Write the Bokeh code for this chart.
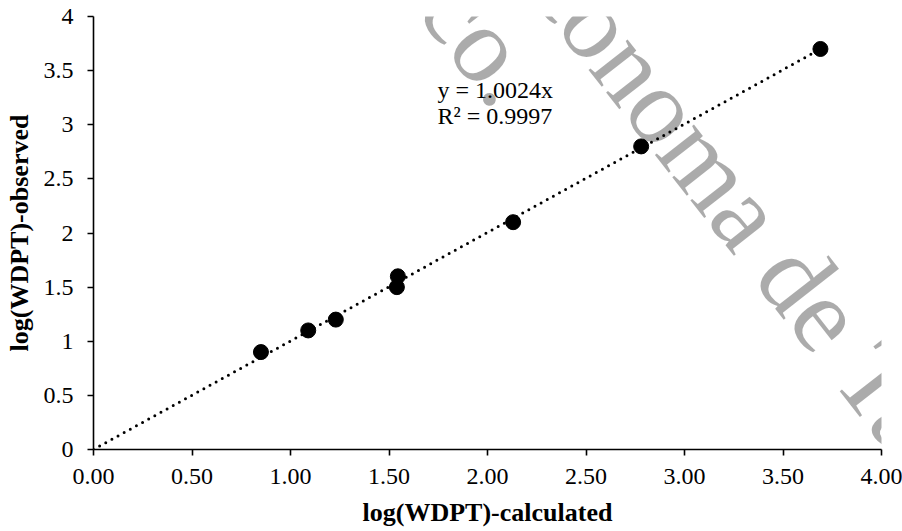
from bokeh.plotting import figure
from bokeh.models import Range1d, FixedTicker, Label
from bokeh.embed import file_html
from bokeh.resources import INLINE

# ---- data ----
x_calc = [0.85, 1.09, 1.23, 1.54, 1.545, 2.13, 2.78, 3.69]
y_obs = [0.90, 1.10, 1.20, 1.50, 1.60, 2.10, 2.80, 3.70]
slope = 1.0024
r2 = 0.9997

x_ticks = [0, 0.5, 1.0, 1.5, 2.0, 2.5, 3.0, 3.5, 4.0]
x_tick_labels = ["0.00", "0.50", "1.00", "1.50", "2.00", "2.50", "3.00", "3.50", "4.00"]
y_ticks = [0, 0.5, 1.0, 1.5, 2.0, 2.5, 3.0, 3.5, 4.0]
y_tick_labels = ["0", "0.5", "1", "1.5", "2", "2.5", "3", "3.5", "4"]

x_title = "log(WDPT)-calculated"
y_title = "log(WDPT)-observed"
watermark_1 = "Tabasco."
watermark_2 = "Autónoma de Tabasco."

FONT = "Liberation Serif"

p = figure(width=902, height=531, output_backend="svg", toolbar_location=None,
           x_range=Range1d(0, 4), y_range=Range1d(0, 4),
           min_border_left=93, min_border_right=21, min_border_top=16, min_border_bottom=82)
p.outline_line_color = None
p.background_fill_color = "white"
p.border_fill_color = "white"
p.xgrid.visible = False
p.ygrid.visible = False

# trendline
fit_x = [0, max(x_calc)]
fit_y = [slope * v for v in fit_x]
p.line(fit_x, fit_y, line_color="black", line_width=3, line_dash="0 7", line_cap="round")

# points
p.scatter(x_calc, y_obs, size=15, color="black", marker="circle")

# equation
eq_kw = dict(text_font=FONT, text_font_size="24px", text_color="black", text_baseline="alphabetic")
p.add_layout(Label(x=1.746, y=3.317, text=f"y = {slope:.4f}x", **eq_kw))
p.add_layout(Label(x=1.746, y=3.077, text=f"R² = {r2:.4f}", **eq_kw))

# watermark: translucent black reads as light grey on white, leaves black marks black
wm_kw = dict(text_font=FONT, text_font_size="108px", text_color="black", text_alpha=0.33,
             angle=-0.907, level="overlay", text_baseline="alphabetic")
p.add_layout(Label(x=2.178, y=3.316, text=watermark_1, text_align="right", **wm_kw))
p.add_layout(Label(x=1.975, y=5.303, text=watermark_2, text_align="left", **wm_kw))

for ax, ticks, labels in ((p.xaxis[0], x_ticks, x_tick_labels), (p.yaxis[0], y_ticks, y_tick_labels)):
    ax.ticker = FixedTicker(ticks=ticks)
    ax.major_label_overrides = {t: l for t, l in zip(ticks, labels)}
    ax.minor_tick_line_color = None
    ax.major_tick_in = 0
    ax.major_tick_out = 6
    ax.axis_line_color = "black"
    ax.axis_line_width = 1.6
    ax.major_tick_line_color = "black"
    ax.major_tick_line_width = 1.6
    ax.major_label_text_font = FONT
    ax.major_label_text_font_size = "24px"
    ax.major_label_text_color = "black"
    ax.axis_label_text_font = FONT
    ax.axis_label_text_font_size = "26px"
    ax.axis_label_text_font_style = "bold"
    ax.axis_label_text_color = "black"

p.xaxis.axis_label = x_title
p.yaxis.axis_label = y_title
p.xaxis.major_label_standoff = 13
p.xaxis.axis_label_standoff = 11
p.yaxis.major_label_standoff = 14
p.yaxis.axis_label_standoff = 7

open("out.html", "w").write(file_html(p, INLINE))
